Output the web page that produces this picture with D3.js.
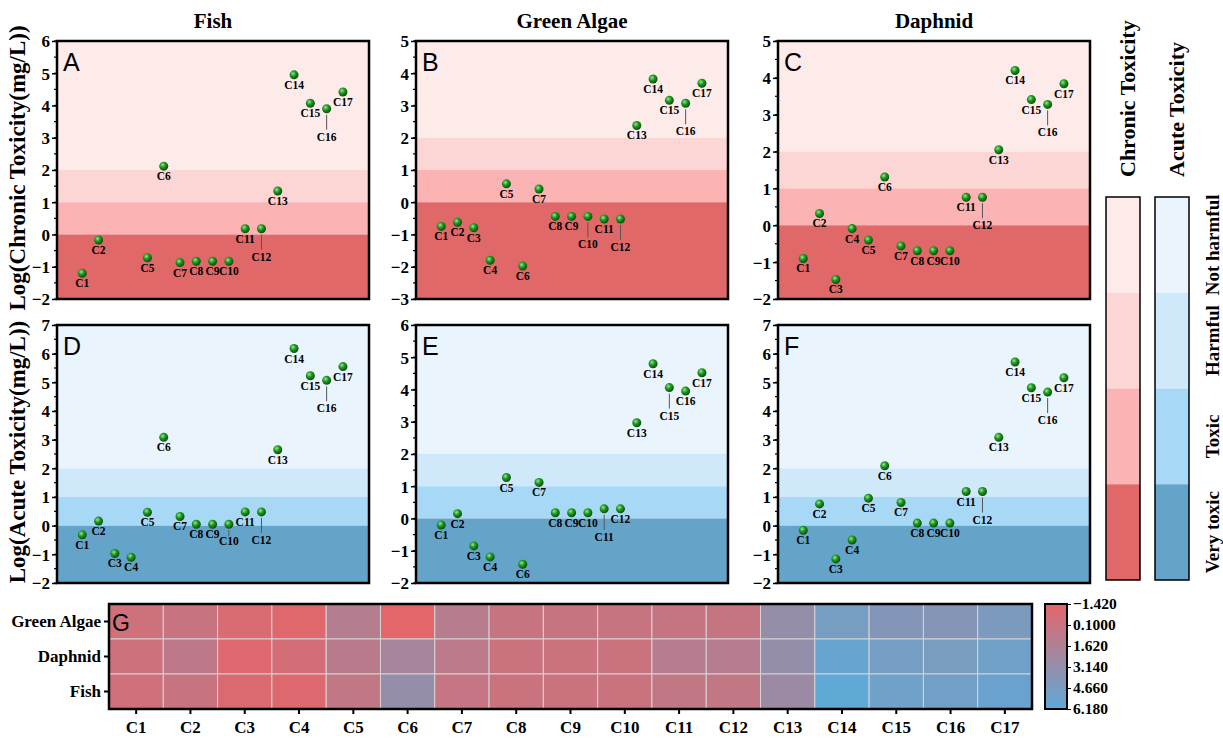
<!DOCTYPE html>
<html>
<head>
<meta charset="utf-8">
<script src="https://cdn.jsdelivr.net/npm/d3@7"></script>
<style>
  body { margin: 0; background: #fff; }
  svg { display: block; }
  .tick-lbl { font-family: "Liberation Serif", serif; font-weight: bold; font-size: 17px; }
  .pt-lbl { font-family: "Liberation Serif", serif; font-weight: bold; font-size: 11.5px; }
</style>
</head>
<body>
<div id="chart"></div>
<script>
// compounds
var compounds = d3.range(1, 18).map(function(i){ return "C" + i; });

// log chronic toxicity (mg/L), null = not reported
var chronicFish    = [-1.2, -0.17, null, null, -0.72, 2.12, -0.87, -0.83, -0.83, -0.83, 0.18, 0.18, 1.35, 4.95, 4.07, 3.9, 4.42];
var chronicAlgae   = [-0.75, -0.62, -0.79, -1.8, 0.57, -1.98, 0.41, -0.44, -0.44, -0.44, -0.52, -0.52, 2.38, 3.82, 3.16, 3.07, 3.69];
var chronicDaphnid = [-0.9, 0.32, -1.47, -0.09, -0.4, 1.31, -0.56, -0.69, -0.69, -0.69, 0.76, 0.76, 2.05, 4.2, 3.41, 3.28, 3.84];

// log acute toxicity (mg/L)
var acuteFish    = [-0.32, 0.16, -0.97, -1.1, 0.47, 3.08, 0.32, 0.05, 0.05, 0.05, 0.48, 0.48, 2.65, 6.18, 5.23, 5.07, 5.55];
var acuteAlgae   = [-0.2, 0.15, -0.85, -1.19, 1.27, -1.42, 1.12, 0.18, 0.18, 0.18, 0.3, 0.3, 2.97, 4.8, 4.06, 3.95, 4.52];
var acuteDaphnid = [-0.16, 0.76, -1.16, -0.5, 0.96, 2.09, 0.81, 0.09, 0.09, 0.09, 1.19, 1.19, 3.08, 5.71, 4.81, 4.66, 5.16];

var species = ["Fish", "Green Algae", "Daphnid"];
var classes = ["Not harmful", "Harmful", "Toxic", "Very toxic"];
var bandEdges = [2, 1, 0];  // class boundaries in log units
var chronicColors = ["#fdebea", "#fcd5d5", "#fbb3b3", "#e06868"];
var acuteColors   = ["#e9f4fc", "#cfe9fa", "#a7d8f6", "#64a4c9"];

var heatRows = ["Green Algae", "Daphnid", "Fish"];
var heatTicks = [-1.42, 0.1, 1.62, 3.14, 4.66, 6.18];

var W = 1223, H = 742;
var svg = d3.select("#chart").append("svg").attr("width", W).attr("height", H);

var defs = svg.append("defs");
var grad = defs.append("radialGradient").attr("id", "ball")
  .attr("cx", "38%").attr("cy", "35%").attr("r", "65%");
grad.append("stop").attr("offset", "0%").attr("stop-color", "#9be69b");
grad.append("stop").attr("offset", "45%").attr("stop-color", "#1f9a1f");
grad.append("stop").attr("offset", "100%").attr("stop-color", "#0a4f0a");

var panels = [
  {id: "A", data: chronicFish,    dom: [-2, 6], col: 0, row: 0, colors: chronicColors, leaders: {"C12": 1, "C16": 1}},
  {id: "B", data: chronicAlgae,   dom: [-3, 5], col: 1, row: 0, colors: chronicColors, leaders: {"C10": 1, "C12": 1, "C16": 1}},
  {id: "C", data: chronicDaphnid, dom: [-2, 5], col: 2, row: 0, colors: chronicColors, leaders: {"C12": 1, "C16": 1}},
  {id: "D", data: acuteFish,      dom: [-2, 7], col: 0, row: 1, colors: acuteColors,   leaders: {"C10": 0.4, "C12": 1, "C16": 1}},
  {id: "E", data: acuteAlgae,     dom: [-2, 6], col: 1, row: 1, colors: acuteColors,   leaders: {"C11": 1, "C15": 1}},
  {id: "F", data: acuteDaphnid,   dom: [-2, 7], col: 2, row: 1, colors: acuteColors,   leaders: {"C12": 1, "C16": 1}}
];

var colX = [57, 416, 778], rowY = [41, 325];
var pw = 312, ph = 258;

panels.forEach(function(p) {
  var g = svg.append("g").attr("transform", "translate(" + colX[p.col] + "," + rowY[p.row] + ")");
  var x = d3.scaleLinear().domain([-0.55, 18.6]).range([0, pw]);
  var y = d3.scaleLinear().domain(p.dom).range([ph, 0]);

  // toxicity bands
  var tops = [p.dom[1]].concat(bandEdges), bots = bandEdges.concat([p.dom[0]]);
  g.selectAll(".band").data(p.colors).enter().append("rect")
    .attr("x", 0).attr("width", pw)
    .attr("y", function(d, i){ return y(tops[i]); })
    .attr("height", function(d, i){ return y(bots[i]) - y(tops[i]); })
    .attr("fill", function(d){ return d; });

  // y axis with minor ticks
  var minor = d3.range(p.dom[0], p.dom[1] + 0.01, 0.5);
  g.selectAll(".minor").data(minor).enter().append("line")
    .attr("x1", -3).attr("x2", 0)
    .attr("y1", function(d){ return y(d); }).attr("y2", function(d){ return y(d); })
    .attr("stroke", "#000").attr("stroke-width", 1.2);
  var ax = g.append("g").call(d3.axisLeft(y).ticks(p.dom[1] - p.dom[0]).tickFormat(d3.format("d")).tickSize(5).tickPadding(2));
  ax.select(".domain").remove();
  ax.selectAll("line").attr("stroke-width", 1.5);
  ax.selectAll("text").attr("class", "tick-lbl").attr("fill", "#000").attr("dy", "0.35em");

  g.append("rect").attr("width", pw).attr("height", ph)
    .attr("fill", "none").attr("stroke", "#000").attr("stroke-width", 2.5);

  g.append("text").attr("x", 6).attr("y", 30)
    .style("font-family", "'Liberation Sans', Arial, sans-serif").style("font-size", "25px")
    .text(p.id);

  var pts = compounds.map(function(c, i){ return {name: c, i: i + 1, v: p.data[i]}; })
    .filter(function(d){ return d.v != null; });

  // leader lines
  g.selectAll(".lead").data(pts.filter(function(d){ return p.leaders[d.name]; })).enter().append("line")
    .attr("x1", function(d){ return x(d.i); }).attr("x2", function(d){ return x(d.i); })
    .attr("y1", function(d){ return y(d.v) + 6; })
    .attr("y2", function(d){ return y(d.v) + 6 + 15 * p.leaders[d.name]; })
    .attr("stroke", "#555").attr("stroke-width", 1);

  g.selectAll(".pl").data(pts).enter().append("text")
    .attr("class", "pt-lbl")
    .attr("text-anchor", "middle")
    .attr("x", function(d){ return x(d.i); })
    .attr("y", function(d){
      var k = p.leaders[d.name] || 0;
      return y(d.v) + 14 + 18 * k;
    })
    .text(function(d){ return d.name; });

  g.selectAll(".pt").data(pts).enter().append("circle")
    .attr("cx", function(d){ return x(d.i); })
    .attr("cy", function(d){ return y(d.v); })
    .attr("r", 4.5)
    .attr("fill", "url(#ball)");
});

// column titles
species.forEach(function(s, i) {
  svg.append("text").attr("x", colX[i] + pw / 2).attr("y", 28)
    .attr("text-anchor", "middle")
    .style("font-family", "'Liberation Serif', serif").style("font-weight", "bold").style("font-size", "21px")
    .text(s);
});

// y axis titles
[["Log(Chronic Toxicity(mg/L))", rowY[0]], ["Log(Acute Toxicity(mg/L))", rowY[1]]].forEach(function(t) {
  svg.append("text")
    .attr("transform", "translate(25," + (t[1] + ph / 2 - 2) + ") rotate(-90)")
    .attr("text-anchor", "middle")
    .style("font-family", "'Liberation Serif', serif").style("font-weight", "bold").style("font-size", "23px")
    .text(t[0]);
});

// class legend bars
var legTop = 197, legBot = 580;
var ly = d3.scaleBand().domain(classes).range([legTop, legBot]);
[[1106, chronicColors, "Chronic Toxicity"], [1155, acuteColors, "Acute Toxicity"]].forEach(function(b) {
  var lg = svg.append("g");
  lg.selectAll("rect").data(classes).enter().append("rect")
    .attr("x", b[0]).attr("width", 34)
    .attr("y", function(d){ return ly(d); }).attr("height", ly.bandwidth())
    .attr("fill", function(d, i){ return b[1][i]; });
  lg.append("rect").attr("x", b[0]).attr("y", legTop).attr("width", 34).attr("height", legBot - legTop)
    .attr("fill", "none").attr("stroke", "#000").attr("stroke-width", 1.5);
  lg.append("text")
    .attr("transform", "translate(" + (b[0] + 29) + ",177) rotate(-90)")
    .style("font-family", "'Liberation Serif', serif").style("font-weight", "bold").style("font-size", "22px")
    .text(b[2]);
});
svg.selectAll(".cls").data(classes).enter().append("text")
  .attr("transform", function(d){ return "translate(1219," + (ly(d) + ly.bandwidth() / 2) + ") rotate(-90)"; })
  .attr("text-anchor", "middle")
  .style("font-family", "'Liberation Serif', serif").style("font-weight", "bold").style("font-size", "19px")
  .text(function(d){ return d; });

// heatmap G (acute toxicity)
var hx0 = 109, hx1 = 1032, hy0 = 604, hy1 = 709;
var hx = d3.scaleBand().domain(compounds).range([hx0, hx1]);
var hy = d3.scaleBand().domain(heatRows).range([hy0, hy1]);
var hcol = d3.scaleLinear().domain([-1.42, 6.18]).range(["#e3666a", "#5ea9d6"]).interpolate(d3.interpolateRgb);
var heatData = {"Green Algae": acuteAlgae, "Daphnid": acuteDaphnid, "Fish": acuteFish};
var cells = [];
heatRows.forEach(function(r) {
  compounds.forEach(function(c, i){ cells.push({row: r, col: c, v: heatData[r][i]}); });
});
var hg = svg.append("g");
hg.selectAll("rect.cell").data(cells).enter().append("rect")
  .attr("x", function(d){ return hx(d.col); }).attr("y", function(d){ return hy(d.row); })
  .attr("width", hx.bandwidth()).attr("height", hy.bandwidth())
  .attr("fill", function(d){ return hcol(d.v); })
  .attr("stroke", "#d4d4d4").attr("stroke-width", 1);
hg.append("rect").attr("x", hx0).attr("y", hy0).attr("width", hx1 - hx0).attr("height", hy1 - hy0)
  .attr("fill", "none").attr("stroke", "#000").attr("stroke-width", 2.5);
hg.append("text").attr("x", hx0 + 3).attr("y", hy0 + 27)
  .style("font-family", "'Liberation Sans', Arial, sans-serif").style("font-size", "23px").text("G");

var hxAx = hg.append("g").attr("transform", "translate(0," + hy1 + ")").call(d3.axisBottom(hx).tickSize(5).tickPadding(4));
var hyAx = hg.append("g").attr("transform", "translate(" + hx0 + ",0)").call(d3.axisLeft(hy).tickSize(5).tickPadding(3));
[hxAx, hyAx].forEach(function(a) {
  a.select(".domain").remove();
  a.selectAll("line").attr("stroke-width", 2);
  a.selectAll("text").attr("fill", "#000")
    .style("font-family", "'Liberation Serif', serif").style("font-weight", "bold").style("font-size", "17px");
});
hxAx.selectAll("text").attr("dy", "0.9em");

// colour bar
var cb = defs.append("linearGradient").attr("id", "cbar").attr("x1", 0).attr("y1", 0).attr("x2", 0).attr("y2", 1);
cb.append("stop").attr("offset", "0%").attr("stop-color", hcol(-1.42));
cb.append("stop").attr("offset", "50%").attr("stop-color", hcol(2.38));
cb.append("stop").attr("offset", "100%").attr("stop-color", hcol(6.18));
svg.append("rect").attr("x", 1045).attr("y", hy0).attr("width", 22).attr("height", hy1 - hy0)
  .attr("fill", "url(#cbar)").attr("stroke", "#000").attr("stroke-width", 2);
var cy = d3.scaleLinear().domain([-1.42, 6.18]).range([hy0, hy1]);
var cax = svg.append("g").attr("transform", "translate(1067,0)")
  .call(d3.axisRight(cy).tickValues(heatTicks).tickSize(4).tickPadding(2)
    .tickFormat(function(d){ return d === 0.1 ? "0.1000" : d3.format(".3f")(d); }));
cax.select(".domain").remove();
cax.selectAll("text").attr("fill", "#000")
  .style("font-family", "'Liberation Serif', serif").style("font-weight", "bold").style("font-size", "15.5px");
</script>
</body>
</html>
